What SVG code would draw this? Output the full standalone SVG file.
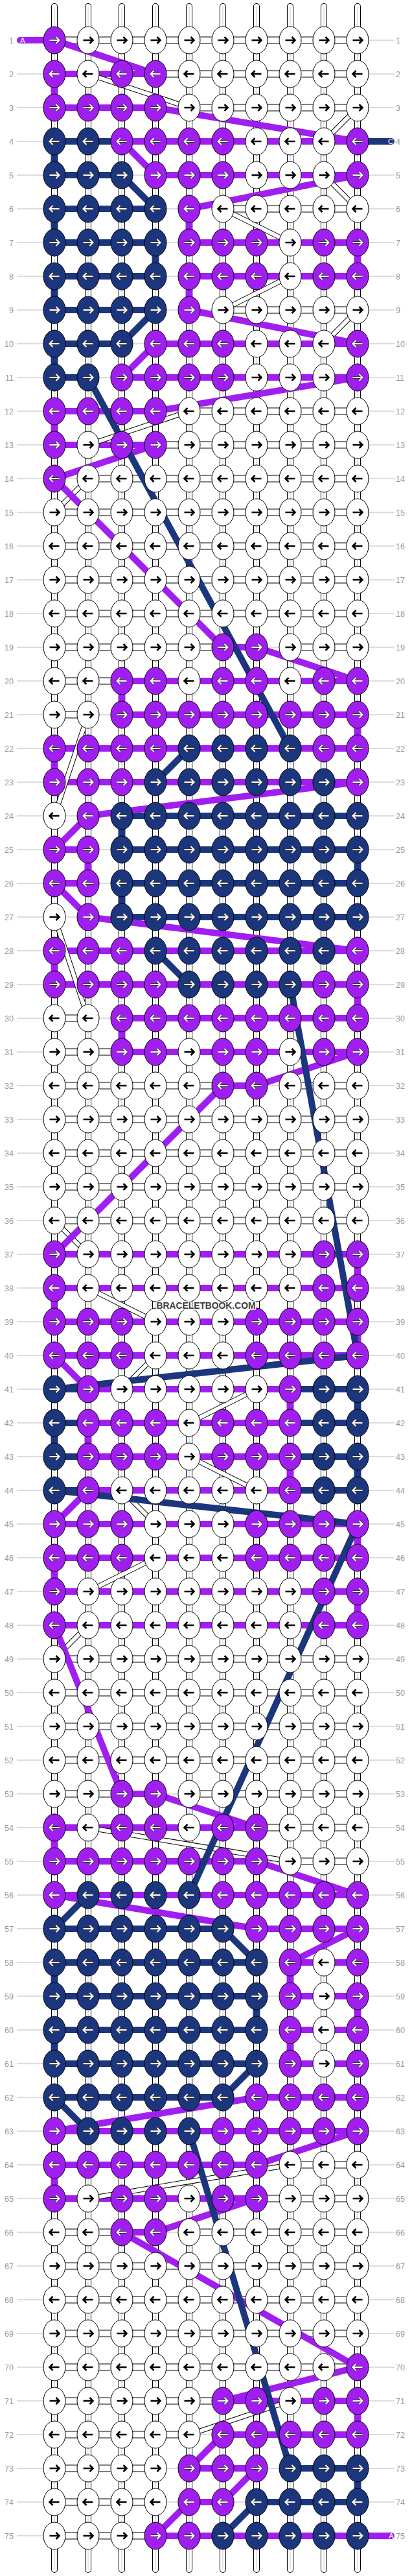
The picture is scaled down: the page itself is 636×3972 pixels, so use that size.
<svg xmlns="http://www.w3.org/2000/svg" width="636" height="3972" viewBox="0 0 636 3972">
<style>
.rl{stroke:#bbb;stroke-width:1;fill:none}
.ll,.lr{font-family:"Liberation Sans",Arial,sans-serif;font-size:12.5px;fill:#999}
.ll{text-anchor:end}
.to{stroke:#000;stroke-width:10;stroke-linecap:round;fill:none}
.ti{stroke:#fff;stroke-width:8;stroke-linecap:round;fill:none}
.tc{stroke:#ccc;stroke-width:1;fill:none}
.ho{stroke:#000;stroke-width:11;fill:none}
.hi{stroke:#fff;stroke-width:9;fill:none}
.hp{stroke:#A01EF0;stroke-width:10;fill:none}
.hn{stroke:#1C367E;stroke-width:10;fill:none}
.vp{stroke:#A01EF0;stroke-width:11;fill:none}
.vn{stroke:#1C367E;stroke-width:11;fill:none}
.dwo{stroke:#000;stroke-width:8;fill:none}
.dwi{stroke:#fff;stroke-width:6;fill:none}
.dp{stroke:#A01EF0;stroke-width:10;fill:none}
.dn{stroke:#1C367E;stroke-width:10;fill:none}
.kw{fill:#fff;stroke:#000;stroke-width:1}
.kp{fill:#A01EF0;stroke:#000;stroke-width:1}
.kn{fill:#1C367E;stroke:#000;stroke-width:1}
.ab{stroke:#000;stroke-width:2.6;fill:none}
.ao{stroke:#333;stroke-width:3.8;fill:none}
.aw{stroke:#fff;stroke-width:2.1;fill:none}
.tag{font-family:"Liberation Sans",Arial,sans-serif;font-size:11px;fill:#fff;text-anchor:middle}
.wm{font-family:"Liberation Sans",Arial,sans-serif;font-size:15px;font-weight:bold;fill:#3c3c3c;text-anchor:middle;stroke:#fff;stroke-width:3;paint-order:stroke}
</style>
<defs>
<path id="R" d="M-7.5 0H6.5M2.5-5 7.5 0 2.5 5"/>
<path id="L" d="M7.5 0H-6.5M-2.5-5-7.5 0-2.5 5"/>
<g id="wr"><ellipse class="kw" rx="17" ry="21"/><use href="#R" class="ab"/></g>
<g id="wl"><ellipse class="kw" rx="17" ry="21"/><use href="#L" class="ab"/></g>
<g id="pr"><ellipse class="kp" rx="17" ry="21"/><use href="#R" class="ao"/><use href="#R" class="aw"/></g>
<g id="pl"><ellipse class="kp" rx="17" ry="21"/><use href="#L" class="ao"/><use href="#L" class="aw"/></g>
<g id="nr"><ellipse class="kn" rx="17" ry="21"/><use href="#R" class="ao"/><use href="#R" class="aw"/></g>
<g id="nl"><ellipse class="kn" rx="17" ry="21"/><use href="#L" class="ao"/><use href="#L" class="aw"/></g>
<path id="hwpath" d="M84 62H552M240 114H552M292 166H552M344 322H552M344 478H552M292 634H552M240 686H552M136 738H552M84 790H552M84 842H552M84 894H552M84 946H552M84 998H344M448 998H552M84 1050H188M84 1102H136M84 1570H136M84 1622H188M84 1674H344M448 1674H552M84 1726H552M84 1778H552M84 1830H552M84 1882H552M84 2558H552M84 2610H552M84 2662H552M84 2714H552M84 2766H188M292 2766H552M396 2818H552M448 2870H552M448 3338H552M396 3390H552M84 3442H188M292 3442H552M84 3494H552M84 3546H552M84 3598H552M84 3650H552M84 3702H344M84 3754H292M84 3806H240M84 3858H240M84 3910H240"/>
<path id="dwpath" d="M136 114L292 166M552 166L500 218M500 270L552 322M344 322L448 374M448 426L344 478M552 478L500 530M292 634L136 686M136 738L84 790M136 1102L84 1258M84 1414L136 1570M84 1882L136 1934M136 1986L240 2038M240 2090L188 2142M396 2142L292 2194M292 2246L396 2298M188 2298L240 2350M240 2402L136 2454M136 2506L84 2558M136 2818L448 2870M448 3338L136 3390M448 3702L292 3754"/>
<path id="tubes" d="M84 10V3962M136 10V3962M188 10V3962M240 10V3962M292 10V3962M344 10V3962M396 10V3962M448 10V3962M500 10V3962M552 10V3962"/>
</defs>
<rect width="636" height="3972" fill="#fff"/>
<g id="row-lines">
<path class="rl" d="M26 62H609M26 114H609M26 166H609M26 218H609M26 270H609M26 322H609M26 374H609M26 426H609M26 478H609M26 530H609M26 582H609M26 634H609M26 686H609M26 738H609M26 790H609M26 842H609M26 894H609M26 946H609M26 998H609M26 1050H609M26 1102H609M26 1154H609M26 1206H609M26 1258H609M26 1310H609M26 1362H609M26 1414H609M26 1466H609M26 1518H609M26 1570H609M26 1622H609M26 1674H609M26 1726H609M26 1778H609M26 1830H609M26 1882H609M26 1934H609M26 1986H609M26 2038H609M26 2090H609M26 2142H609M26 2194H609M26 2246H609M26 2298H609M26 2350H609M26 2402H609M26 2454H609M26 2506H609M26 2558H609M26 2610H609M26 2662H609M26 2714H609M26 2766H609M26 2818H609M26 2870H609M26 2922H609M26 2974H609M26 3026H609M26 3078H609M26 3130H609M26 3182H609M26 3234H609M26 3286H609M26 3338H609M26 3390H609M26 3442H609M26 3494H609M26 3546H609M26 3598H609M26 3650H609M26 3702H609M26 3754H609M26 3806H609M26 3858H609M26 3910H609"/>
</g>
<g id="connectors">
<use href="#tubes" class="to"/><use href="#tubes" class="ti"/><use href="#tubes" class="tc"/>
<use href="#hwpath" class="ho"/><use href="#hwpath" class="hi"/>
<path class="hp" d="M84 114H240M84 166H240M188 218H552M240 270H552M292 374H552M292 426H552M240 530H552M188 582H552M84 634H240M84 686H240M344 998H396M188 1050H552M188 1102H552M84 1154H552M84 1206H552M84 1310H136M84 1362H136M84 1466H552M84 1518H552M188 1570H552M188 1622H552M344 1674H396M84 1934H552M84 1986H552M84 2038H552M84 2090H552M136 2142H448M136 2194H448M136 2246H448M136 2298H448M84 2350H552M84 2402H552M84 2454H552M84 2506H552M188 2766H240M84 2818H396M84 2870H396M84 2922H552M396 2974H552M448 3026H552M448 3078H552M448 3130H552M448 3182H552M396 3234H552M84 3286H552M84 3338H396M84 3390H396M188 3442H240M344 3702H552M344 3754H552M292 3806H396M292 3858H344M240 3910H552"/>
<path class="hn" d="M84 218H188M84 270H188M84 322H240M84 374H240M84 426H240M84 478H240M84 530H188M84 582H136M188 1258H552M188 1310H552M188 1362H552M188 1414H552M84 2142H136M448 2142H552M84 2194H136M448 2194H552M84 2246H136M448 2246H552M84 2298H136M448 2298H552M84 2974H344M84 3026H396M84 3078H396M84 3130H396M84 3182H396M84 3234H344M448 3806H552M396 3858H552"/>
<path class="vp" d="M84 114V166M292 322V374M552 374V426M292 426V478M84 634V686M188 1050V1102M552 1102V1154M84 1154V1206M136 1310V1362M84 1466V1518M552 1518V1570M188 1570V1622M552 1934V1986M84 1986V2038M552 2038V2090M448 2142V2194M136 2194V2246M448 2246V2298M552 2350V2402M84 2402V2454M552 2454V2506M84 2818V2870M448 3026V3078M552 3078V3130M448 3130V3182M84 3338V3390M552 3702V3754"/>
<path class="vn" d="M84 218V270M84 322V374M240 374V426M84 426V478M84 530V582M188 1258V1310M552 1310V1362M188 1362V1414M552 2142V2194M84 2194V2246M552 2246V2298M84 3026V3078M396 3078V3130M84 3130V3182M552 3806V3858"/>
<use href="#dwpath" class="dwo"/><use href="#dwpath" class="dwi"/>
<path class="dp" d="M84 62L240 114M240 166L552 218M188 218L240 270M552 270L292 322M292 478L552 530M240 530L188 582M552 582L240 634M240 686L84 738M84 738L344 998M396 998L552 1050M552 1206L136 1258M136 1258L84 1310M84 1362L136 1414M136 1414L552 1466M552 1622L396 1674M344 1674L84 1934M84 2090L136 2142M136 2298L84 2350M84 2506L188 2766M240 2766L396 2818M396 2870L552 2922M84 2922L396 2974M552 2974L448 3026M396 3234L84 3286M552 3286L396 3338M396 3390L240 3442M188 3442L552 3650M552 3650L344 3702M344 3754L292 3806M396 3806L344 3858M292 3858L240 3910"/>
<path class="dn" d="M188 270L240 322M240 478L188 530M136 582L448 1154M292 1154L240 1206M240 1466L292 1518M448 1518L552 2090M552 2090L84 2142M84 2298L552 2350M552 2350L292 2922M136 2922L84 2974M344 2974L396 3026M396 3182L344 3234M84 3234L136 3286M292 3286L448 3806M396 3858L344 3910"/>
<rect x="26" y="57" width="60" height="10" rx="5" fill="#A01EF0"/>
<rect x="550" y="213" width="59" height="10" rx="5" fill="#1C367E"/>
<rect x="550" y="3905" width="59" height="10" rx="5" fill="#A01EF0"/>
<text class="tag" x="35" y="66">A</text>
<text class="tag" x="603" y="222">C</text>
<text class="tag" x="604" y="3914">A</text>
</g>
<g id="knots">
<g id="r1" transform="translate(0 62)"><text class="ll" x="21" y="4.5">1</text><text class="lr" x="611" y="4.5">1</text><use id="n1_1" href="#pr" x="84"/><use id="n1_2" href="#wr" x="136"/><use id="n1_3" href="#wr" x="188"/><use id="n1_4" href="#wr" x="240"/><use id="n1_5" href="#wr" x="292"/><use id="n1_6" href="#wr" x="344"/><use id="n1_7" href="#wr" x="396"/><use id="n1_8" href="#wr" x="448"/><use id="n1_9" href="#wr" x="500"/><use id="n1_10" href="#wr" x="552"/></g>
<g id="r2" transform="translate(0 114)"><text class="ll" x="21" y="4.5">2</text><text class="lr" x="611" y="4.5">2</text><use id="n2_1" href="#pl" x="84"/><use id="n2_2" href="#wl" x="136"/><use id="n2_3" href="#pl" x="188"/><use id="n2_4" href="#pl" x="240"/><use id="n2_5" href="#wl" x="292"/><use id="n2_6" href="#wl" x="344"/><use id="n2_7" href="#wl" x="396"/><use id="n2_8" href="#wl" x="448"/><use id="n2_9" href="#wl" x="500"/><use id="n2_10" href="#wl" x="552"/></g>
<g id="r3" transform="translate(0 166)"><text class="ll" x="21" y="4.5">3</text><text class="lr" x="611" y="4.5">3</text><use id="n3_1" href="#pr" x="84"/><use id="n3_2" href="#pr" x="136"/><use id="n3_3" href="#pr" x="188"/><use id="n3_4" href="#pr" x="240"/><use id="n3_5" href="#wr" x="292"/><use id="n3_6" href="#wr" x="344"/><use id="n3_7" href="#wr" x="396"/><use id="n3_8" href="#wr" x="448"/><use id="n3_9" href="#wr" x="500"/><use id="n3_10" href="#wr" x="552"/></g>
<g id="r4" transform="translate(0 218)"><text class="ll" x="21" y="4.5">4</text><text class="lr" x="611" y="4.5">4</text><use id="n4_1" href="#nl" x="84"/><use id="n4_2" href="#nl" x="136"/><use id="n4_3" href="#pl" x="188"/><use id="n4_4" href="#pl" x="240"/><use id="n4_5" href="#pl" x="292"/><use id="n4_6" href="#pl" x="344"/><use id="n4_7" href="#wl" x="396"/><use id="n4_8" href="#wl" x="448"/><use id="n4_9" href="#wl" x="500"/><use id="n4_10" href="#pl" x="552"/></g>
<g id="r5" transform="translate(0 270)"><text class="ll" x="21" y="4.5">5</text><text class="lr" x="611" y="4.5">5</text><use id="n5_1" href="#nr" x="84"/><use id="n5_2" href="#nr" x="136"/><use id="n5_3" href="#nr" x="188"/><use id="n5_4" href="#pr" x="240"/><use id="n5_5" href="#pr" x="292"/><use id="n5_6" href="#pr" x="344"/><use id="n5_7" href="#wr" x="396"/><use id="n5_8" href="#wr" x="448"/><use id="n5_9" href="#wr" x="500"/><use id="n5_10" href="#pr" x="552"/></g>
<g id="r6" transform="translate(0 322)"><text class="ll" x="21" y="4.5">6</text><text class="lr" x="611" y="4.5">6</text><use id="n6_1" href="#nl" x="84"/><use id="n6_2" href="#nl" x="136"/><use id="n6_3" href="#nl" x="188"/><use id="n6_4" href="#nl" x="240"/><use id="n6_5" href="#pl" x="292"/><use id="n6_6" href="#wl" x="344"/><use id="n6_7" href="#wl" x="396"/><use id="n6_8" href="#wl" x="448"/><use id="n6_9" href="#wl" x="500"/><use id="n6_10" href="#wl" x="552"/></g>
<g id="r7" transform="translate(0 374)"><text class="ll" x="21" y="4.5">7</text><text class="lr" x="611" y="4.5">7</text><use id="n7_1" href="#nr" x="84"/><use id="n7_2" href="#nr" x="136"/><use id="n7_3" href="#nr" x="188"/><use id="n7_4" href="#nr" x="240"/><use id="n7_5" href="#pr" x="292"/><use id="n7_6" href="#pr" x="344"/><use id="n7_7" href="#pr" x="396"/><use id="n7_8" href="#wr" x="448"/><use id="n7_9" href="#pr" x="500"/><use id="n7_10" href="#pr" x="552"/></g>
<g id="r8" transform="translate(0 426)"><text class="ll" x="21" y="4.5">8</text><text class="lr" x="611" y="4.5">8</text><use id="n8_1" href="#nl" x="84"/><use id="n8_2" href="#nl" x="136"/><use id="n8_3" href="#nl" x="188"/><use id="n8_4" href="#nl" x="240"/><use id="n8_5" href="#pl" x="292"/><use id="n8_6" href="#pl" x="344"/><use id="n8_7" href="#pl" x="396"/><use id="n8_8" href="#wl" x="448"/><use id="n8_9" href="#pl" x="500"/><use id="n8_10" href="#pl" x="552"/></g>
<g id="r9" transform="translate(0 478)"><text class="ll" x="21" y="4.5">9</text><text class="lr" x="611" y="4.5">9</text><use id="n9_1" href="#nr" x="84"/><use id="n9_2" href="#nr" x="136"/><use id="n9_3" href="#nr" x="188"/><use id="n9_4" href="#nr" x="240"/><use id="n9_5" href="#pr" x="292"/><use id="n9_6" href="#wr" x="344"/><use id="n9_7" href="#wr" x="396"/><use id="n9_8" href="#wr" x="448"/><use id="n9_9" href="#wr" x="500"/><use id="n9_10" href="#wr" x="552"/></g>
<g id="r10" transform="translate(0 530)"><text class="ll" x="21" y="4.5">10</text><text class="lr" x="611" y="4.5">10</text><use id="n10_1" href="#nl" x="84"/><use id="n10_2" href="#nl" x="136"/><use id="n10_3" href="#nl" x="188"/><use id="n10_4" href="#pl" x="240"/><use id="n10_5" href="#pl" x="292"/><use id="n10_6" href="#pl" x="344"/><use id="n10_7" href="#wl" x="396"/><use id="n10_8" href="#wl" x="448"/><use id="n10_9" href="#wl" x="500"/><use id="n10_10" href="#pl" x="552"/></g>
<g id="r11" transform="translate(0 582)"><text class="ll" x="21" y="4.5">11</text><text class="lr" x="611" y="4.5">11</text><use id="n11_1" href="#nr" x="84"/><use id="n11_2" href="#nr" x="136"/><use id="n11_3" href="#pr" x="188"/><use id="n11_4" href="#pr" x="240"/><use id="n11_5" href="#pr" x="292"/><use id="n11_6" href="#pr" x="344"/><use id="n11_7" href="#wr" x="396"/><use id="n11_8" href="#wr" x="448"/><use id="n11_9" href="#wr" x="500"/><use id="n11_10" href="#pr" x="552"/></g>
<g id="r12" transform="translate(0 634)"><text class="ll" x="21" y="4.5">12</text><text class="lr" x="611" y="4.5">12</text><use id="n12_1" href="#pl" x="84"/><use id="n12_2" href="#pl" x="136"/><use id="n12_3" href="#pl" x="188"/><use id="n12_4" href="#pl" x="240"/><use id="n12_5" href="#wl" x="292"/><use id="n12_6" href="#wl" x="344"/><use id="n12_7" href="#wl" x="396"/><use id="n12_8" href="#wl" x="448"/><use id="n12_9" href="#wl" x="500"/><use id="n12_10" href="#wl" x="552"/></g>
<g id="r13" transform="translate(0 686)"><text class="ll" x="21" y="4.5">13</text><text class="lr" x="611" y="4.5">13</text><use id="n13_1" href="#pr" x="84"/><use id="n13_2" href="#wr" x="136"/><use id="n13_3" href="#pr" x="188"/><use id="n13_4" href="#pr" x="240"/><use id="n13_5" href="#wr" x="292"/><use id="n13_6" href="#wr" x="344"/><use id="n13_7" href="#wr" x="396"/><use id="n13_8" href="#wr" x="448"/><use id="n13_9" href="#wr" x="500"/><use id="n13_10" href="#wr" x="552"/></g>
<g id="r14" transform="translate(0 738)"><text class="ll" x="21" y="4.5">14</text><text class="lr" x="611" y="4.5">14</text><use id="n14_1" href="#pl" x="84"/><use id="n14_2" href="#wl" x="136"/><use id="n14_3" href="#wl" x="188"/><use id="n14_4" href="#wl" x="240"/><use id="n14_5" href="#wl" x="292"/><use id="n14_6" href="#wl" x="344"/><use id="n14_7" href="#wl" x="396"/><use id="n14_8" href="#wl" x="448"/><use id="n14_9" href="#wl" x="500"/><use id="n14_10" href="#wl" x="552"/></g>
<g id="r15" transform="translate(0 790)"><text class="ll" x="21" y="4.5">15</text><text class="lr" x="611" y="4.5">15</text><use id="n15_1" href="#wr" x="84"/><use id="n15_2" href="#wr" x="136"/><use id="n15_3" href="#wr" x="188"/><use id="n15_4" href="#wr" x="240"/><use id="n15_5" href="#wr" x="292"/><use id="n15_6" href="#wr" x="344"/><use id="n15_7" href="#wr" x="396"/><use id="n15_8" href="#wr" x="448"/><use id="n15_9" href="#wr" x="500"/><use id="n15_10" href="#wr" x="552"/></g>
<g id="r16" transform="translate(0 842)"><text class="ll" x="21" y="4.5">16</text><text class="lr" x="611" y="4.5">16</text><use id="n16_1" href="#wl" x="84"/><use id="n16_2" href="#wl" x="136"/><use id="n16_3" href="#wl" x="188"/><use id="n16_4" href="#wl" x="240"/><use id="n16_5" href="#wl" x="292"/><use id="n16_6" href="#wl" x="344"/><use id="n16_7" href="#wl" x="396"/><use id="n16_8" href="#wl" x="448"/><use id="n16_9" href="#wl" x="500"/><use id="n16_10" href="#wl" x="552"/></g>
<g id="r17" transform="translate(0 894)"><text class="ll" x="21" y="4.5">17</text><text class="lr" x="611" y="4.5">17</text><use id="n17_1" href="#wr" x="84"/><use id="n17_2" href="#wr" x="136"/><use id="n17_3" href="#wr" x="188"/><use id="n17_4" href="#wr" x="240"/><use id="n17_5" href="#wr" x="292"/><use id="n17_6" href="#wr" x="344"/><use id="n17_7" href="#wr" x="396"/><use id="n17_8" href="#wr" x="448"/><use id="n17_9" href="#wr" x="500"/><use id="n17_10" href="#wr" x="552"/></g>
<g id="r18" transform="translate(0 946)"><text class="ll" x="21" y="4.5">18</text><text class="lr" x="611" y="4.5">18</text><use id="n18_1" href="#wl" x="84"/><use id="n18_2" href="#wl" x="136"/><use id="n18_3" href="#wl" x="188"/><use id="n18_4" href="#wl" x="240"/><use id="n18_5" href="#wl" x="292"/><use id="n18_6" href="#wl" x="344"/><use id="n18_7" href="#wl" x="396"/><use id="n18_8" href="#wl" x="448"/><use id="n18_9" href="#wl" x="500"/><use id="n18_10" href="#wl" x="552"/></g>
<g id="r19" transform="translate(0 998)"><text class="ll" x="21" y="4.5">19</text><text class="lr" x="611" y="4.5">19</text><use id="n19_1" href="#wr" x="84"/><use id="n19_2" href="#wr" x="136"/><use id="n19_3" href="#wr" x="188"/><use id="n19_4" href="#wr" x="240"/><use id="n19_5" href="#wr" x="292"/><use id="n19_6" href="#pr" x="344"/><use id="n19_7" href="#pr" x="396"/><use id="n19_8" href="#wr" x="448"/><use id="n19_9" href="#wr" x="500"/><use id="n19_10" href="#wr" x="552"/></g>
<g id="r20" transform="translate(0 1050)"><text class="ll" x="21" y="4.5">20</text><text class="lr" x="611" y="4.5">20</text><use id="n20_1" href="#wl" x="84"/><use id="n20_2" href="#wl" x="136"/><use id="n20_3" href="#pl" x="188"/><use id="n20_4" href="#pl" x="240"/><use id="n20_5" href="#wl" x="292"/><use id="n20_6" href="#pl" x="344"/><use id="n20_7" href="#pl" x="396"/><use id="n20_8" href="#wl" x="448"/><use id="n20_9" href="#pl" x="500"/><use id="n20_10" href="#pl" x="552"/></g>
<g id="r21" transform="translate(0 1102)"><text class="ll" x="21" y="4.5">21</text><text class="lr" x="611" y="4.5">21</text><use id="n21_1" href="#wr" x="84"/><use id="n21_2" href="#wr" x="136"/><use id="n21_3" href="#pr" x="188"/><use id="n21_4" href="#pr" x="240"/><use id="n21_5" href="#pr" x="292"/><use id="n21_6" href="#pr" x="344"/><use id="n21_7" href="#pr" x="396"/><use id="n21_8" href="#pr" x="448"/><use id="n21_9" href="#pr" x="500"/><use id="n21_10" href="#pr" x="552"/></g>
<g id="r22" transform="translate(0 1154)"><text class="ll" x="21" y="4.5">22</text><text class="lr" x="611" y="4.5">22</text><use id="n22_1" href="#pl" x="84"/><use id="n22_2" href="#pl" x="136"/><use id="n22_3" href="#pl" x="188"/><use id="n22_4" href="#pl" x="240"/><use id="n22_5" href="#nl" x="292"/><use id="n22_6" href="#nl" x="344"/><use id="n22_7" href="#nl" x="396"/><use id="n22_8" href="#nl" x="448"/><use id="n22_9" href="#pl" x="500"/><use id="n22_10" href="#pl" x="552"/></g>
<g id="r23" transform="translate(0 1206)"><text class="ll" x="21" y="4.5">23</text><text class="lr" x="611" y="4.5">23</text><use id="n23_1" href="#pr" x="84"/><use id="n23_2" href="#pr" x="136"/><use id="n23_3" href="#pr" x="188"/><use id="n23_4" href="#nr" x="240"/><use id="n23_5" href="#nr" x="292"/><use id="n23_6" href="#nr" x="344"/><use id="n23_7" href="#nr" x="396"/><use id="n23_8" href="#nr" x="448"/><use id="n23_9" href="#nr" x="500"/><use id="n23_10" href="#pr" x="552"/></g>
<g id="r24" transform="translate(0 1258)"><text class="ll" x="21" y="4.5">24</text><text class="lr" x="611" y="4.5">24</text><use id="n24_1" href="#wl" x="84"/><use id="n24_2" href="#pl" x="136"/><use id="n24_3" href="#nl" x="188"/><use id="n24_4" href="#nl" x="240"/><use id="n24_5" href="#nl" x="292"/><use id="n24_6" href="#nl" x="344"/><use id="n24_7" href="#nl" x="396"/><use id="n24_8" href="#nl" x="448"/><use id="n24_9" href="#nl" x="500"/><use id="n24_10" href="#nl" x="552"/></g>
<g id="r25" transform="translate(0 1310)"><text class="ll" x="21" y="4.5">25</text><text class="lr" x="611" y="4.5">25</text><use id="n25_1" href="#pr" x="84"/><use id="n25_2" href="#pr" x="136"/><use id="n25_3" href="#nr" x="188"/><use id="n25_4" href="#nr" x="240"/><use id="n25_5" href="#nr" x="292"/><use id="n25_6" href="#nr" x="344"/><use id="n25_7" href="#nr" x="396"/><use id="n25_8" href="#nr" x="448"/><use id="n25_9" href="#nr" x="500"/><use id="n25_10" href="#nr" x="552"/></g>
<g id="r26" transform="translate(0 1362)"><text class="ll" x="21" y="4.5">26</text><text class="lr" x="611" y="4.5">26</text><use id="n26_1" href="#pl" x="84"/><use id="n26_2" href="#pl" x="136"/><use id="n26_3" href="#nl" x="188"/><use id="n26_4" href="#nl" x="240"/><use id="n26_5" href="#nl" x="292"/><use id="n26_6" href="#nl" x="344"/><use id="n26_7" href="#nl" x="396"/><use id="n26_8" href="#nl" x="448"/><use id="n26_9" href="#nl" x="500"/><use id="n26_10" href="#nl" x="552"/></g>
<g id="r27" transform="translate(0 1414)"><text class="ll" x="21" y="4.5">27</text><text class="lr" x="611" y="4.5">27</text><use id="n27_1" href="#wr" x="84"/><use id="n27_2" href="#pr" x="136"/><use id="n27_3" href="#nr" x="188"/><use id="n27_4" href="#nr" x="240"/><use id="n27_5" href="#nr" x="292"/><use id="n27_6" href="#nr" x="344"/><use id="n27_7" href="#nr" x="396"/><use id="n27_8" href="#nr" x="448"/><use id="n27_9" href="#nr" x="500"/><use id="n27_10" href="#nr" x="552"/></g>
<g id="r28" transform="translate(0 1466)"><text class="ll" x="21" y="4.5">28</text><text class="lr" x="611" y="4.5">28</text><use id="n28_1" href="#pl" x="84"/><use id="n28_2" href="#pl" x="136"/><use id="n28_3" href="#pl" x="188"/><use id="n28_4" href="#nl" x="240"/><use id="n28_5" href="#nl" x="292"/><use id="n28_6" href="#nl" x="344"/><use id="n28_7" href="#nl" x="396"/><use id="n28_8" href="#nl" x="448"/><use id="n28_9" href="#nl" x="500"/><use id="n28_10" href="#pl" x="552"/></g>
<g id="r29" transform="translate(0 1518)"><text class="ll" x="21" y="4.5">29</text><text class="lr" x="611" y="4.5">29</text><use id="n29_1" href="#pr" x="84"/><use id="n29_2" href="#pr" x="136"/><use id="n29_3" href="#pr" x="188"/><use id="n29_4" href="#pr" x="240"/><use id="n29_5" href="#nr" x="292"/><use id="n29_6" href="#nr" x="344"/><use id="n29_7" href="#nr" x="396"/><use id="n29_8" href="#nr" x="448"/><use id="n29_9" href="#pr" x="500"/><use id="n29_10" href="#pr" x="552"/></g>
<g id="r30" transform="translate(0 1570)"><text class="ll" x="21" y="4.5">30</text><text class="lr" x="611" y="4.5">30</text><use id="n30_1" href="#wl" x="84"/><use id="n30_2" href="#wl" x="136"/><use id="n30_3" href="#pl" x="188"/><use id="n30_4" href="#pl" x="240"/><use id="n30_5" href="#pl" x="292"/><use id="n30_6" href="#pl" x="344"/><use id="n30_7" href="#pl" x="396"/><use id="n30_8" href="#pl" x="448"/><use id="n30_9" href="#pl" x="500"/><use id="n30_10" href="#pl" x="552"/></g>
<g id="r31" transform="translate(0 1622)"><text class="ll" x="21" y="4.5">31</text><text class="lr" x="611" y="4.5">31</text><use id="n31_1" href="#wr" x="84"/><use id="n31_2" href="#wr" x="136"/><use id="n31_3" href="#pr" x="188"/><use id="n31_4" href="#pr" x="240"/><use id="n31_5" href="#wr" x="292"/><use id="n31_6" href="#pr" x="344"/><use id="n31_7" href="#pr" x="396"/><use id="n31_8" href="#wr" x="448"/><use id="n31_9" href="#pr" x="500"/><use id="n31_10" href="#pr" x="552"/></g>
<g id="r32" transform="translate(0 1674)"><text class="ll" x="21" y="4.5">32</text><text class="lr" x="611" y="4.5">32</text><use id="n32_1" href="#wl" x="84"/><use id="n32_2" href="#wl" x="136"/><use id="n32_3" href="#wl" x="188"/><use id="n32_4" href="#wl" x="240"/><use id="n32_5" href="#wl" x="292"/><use id="n32_6" href="#pl" x="344"/><use id="n32_7" href="#pl" x="396"/><use id="n32_8" href="#wl" x="448"/><use id="n32_9" href="#wl" x="500"/><use id="n32_10" href="#wl" x="552"/></g>
<g id="r33" transform="translate(0 1726)"><text class="ll" x="21" y="4.5">33</text><text class="lr" x="611" y="4.5">33</text><use id="n33_1" href="#wr" x="84"/><use id="n33_2" href="#wr" x="136"/><use id="n33_3" href="#wr" x="188"/><use id="n33_4" href="#wr" x="240"/><use id="n33_5" href="#wr" x="292"/><use id="n33_6" href="#wr" x="344"/><use id="n33_7" href="#wr" x="396"/><use id="n33_8" href="#wr" x="448"/><use id="n33_9" href="#wr" x="500"/><use id="n33_10" href="#wr" x="552"/></g>
<g id="r34" transform="translate(0 1778)"><text class="ll" x="21" y="4.5">34</text><text class="lr" x="611" y="4.5">34</text><use id="n34_1" href="#wl" x="84"/><use id="n34_2" href="#wl" x="136"/><use id="n34_3" href="#wl" x="188"/><use id="n34_4" href="#wl" x="240"/><use id="n34_5" href="#wl" x="292"/><use id="n34_6" href="#wl" x="344"/><use id="n34_7" href="#wl" x="396"/><use id="n34_8" href="#wl" x="448"/><use id="n34_9" href="#wl" x="500"/><use id="n34_10" href="#wl" x="552"/></g>
<g id="r35" transform="translate(0 1830)"><text class="ll" x="21" y="4.5">35</text><text class="lr" x="611" y="4.5">35</text><use id="n35_1" href="#wr" x="84"/><use id="n35_2" href="#wr" x="136"/><use id="n35_3" href="#wr" x="188"/><use id="n35_4" href="#wr" x="240"/><use id="n35_5" href="#wr" x="292"/><use id="n35_6" href="#wr" x="344"/><use id="n35_7" href="#wr" x="396"/><use id="n35_8" href="#wr" x="448"/><use id="n35_9" href="#wr" x="500"/><use id="n35_10" href="#wr" x="552"/></g>
<g id="r36" transform="translate(0 1882)"><text class="ll" x="21" y="4.5">36</text><text class="lr" x="611" y="4.5">36</text><use id="n36_1" href="#wl" x="84"/><use id="n36_2" href="#wl" x="136"/><use id="n36_3" href="#wl" x="188"/><use id="n36_4" href="#wl" x="240"/><use id="n36_5" href="#wl" x="292"/><use id="n36_6" href="#wl" x="344"/><use id="n36_7" href="#wl" x="396"/><use id="n36_8" href="#wl" x="448"/><use id="n36_9" href="#wl" x="500"/><use id="n36_10" href="#wl" x="552"/></g>
<g id="r37" transform="translate(0 1934)"><text class="ll" x="21" y="4.5">37</text><text class="lr" x="611" y="4.5">37</text><use id="n37_1" href="#pr" x="84"/><use id="n37_2" href="#wr" x="136"/><use id="n37_3" href="#wr" x="188"/><use id="n37_4" href="#wr" x="240"/><use id="n37_5" href="#wr" x="292"/><use id="n37_6" href="#wr" x="344"/><use id="n37_7" href="#wr" x="396"/><use id="n37_8" href="#wr" x="448"/><use id="n37_9" href="#pr" x="500"/><use id="n37_10" href="#pr" x="552"/></g>
<g id="r38" transform="translate(0 1986)"><text class="ll" x="21" y="4.5">38</text><text class="lr" x="611" y="4.5">38</text><use id="n38_1" href="#pl" x="84"/><use id="n38_2" href="#wl" x="136"/><use id="n38_3" href="#wl" x="188"/><use id="n38_4" href="#wl" x="240"/><use id="n38_5" href="#wl" x="292"/><use id="n38_6" href="#wl" x="344"/><use id="n38_7" href="#wl" x="396"/><use id="n38_8" href="#wl" x="448"/><use id="n38_9" href="#pl" x="500"/><use id="n38_10" href="#pl" x="552"/></g>
<g id="r39" transform="translate(0 2038)"><text class="ll" x="21" y="4.5">39</text><text class="lr" x="611" y="4.5">39</text><use id="n39_1" href="#pr" x="84"/><use id="n39_2" href="#pr" x="136"/><use id="n39_3" href="#pr" x="188"/><use id="n39_4" href="#wr" x="240"/><use id="n39_5" href="#wr" x="292"/><use id="n39_6" href="#wr" x="344"/><use id="n39_7" href="#pr" x="396"/><use id="n39_8" href="#pr" x="448"/><use id="n39_9" href="#pr" x="500"/><use id="n39_10" href="#pr" x="552"/></g>
<g id="r40" transform="translate(0 2090)"><text class="ll" x="21" y="4.5">40</text><text class="lr" x="611" y="4.5">40</text><use id="n40_1" href="#pl" x="84"/><use id="n40_2" href="#pl" x="136"/><use id="n40_3" href="#pl" x="188"/><use id="n40_4" href="#wl" x="240"/><use id="n40_5" href="#wl" x="292"/><use id="n40_6" href="#wl" x="344"/><use id="n40_7" href="#pl" x="396"/><use id="n40_8" href="#pl" x="448"/><use id="n40_9" href="#pl" x="500"/><use id="n40_10" href="#pl" x="552"/></g>
<g id="r41" transform="translate(0 2142)"><text class="ll" x="21" y="4.5">41</text><text class="lr" x="611" y="4.5">41</text><use id="n41_1" href="#nr" x="84"/><use id="n41_2" href="#pr" x="136"/><use id="n41_3" href="#wr" x="188"/><use id="n41_4" href="#wr" x="240"/><use id="n41_5" href="#wr" x="292"/><use id="n41_6" href="#wr" x="344"/><use id="n41_7" href="#wr" x="396"/><use id="n41_8" href="#pr" x="448"/><use id="n41_9" href="#nr" x="500"/><use id="n41_10" href="#nr" x="552"/></g>
<g id="r42" transform="translate(0 2194)"><text class="ll" x="21" y="4.5">42</text><text class="lr" x="611" y="4.5">42</text><use id="n42_1" href="#nl" x="84"/><use id="n42_2" href="#pl" x="136"/><use id="n42_3" href="#pl" x="188"/><use id="n42_4" href="#pl" x="240"/><use id="n42_5" href="#wl" x="292"/><use id="n42_6" href="#pl" x="344"/><use id="n42_7" href="#pl" x="396"/><use id="n42_8" href="#pl" x="448"/><use id="n42_9" href="#nl" x="500"/><use id="n42_10" href="#nl" x="552"/></g>
<g id="r43" transform="translate(0 2246)"><text class="ll" x="21" y="4.5">43</text><text class="lr" x="611" y="4.5">43</text><use id="n43_1" href="#nr" x="84"/><use id="n43_2" href="#pr" x="136"/><use id="n43_3" href="#pr" x="188"/><use id="n43_4" href="#pr" x="240"/><use id="n43_5" href="#wr" x="292"/><use id="n43_6" href="#pr" x="344"/><use id="n43_7" href="#pr" x="396"/><use id="n43_8" href="#pr" x="448"/><use id="n43_9" href="#nr" x="500"/><use id="n43_10" href="#nr" x="552"/></g>
<g id="r44" transform="translate(0 2298)"><text class="ll" x="21" y="4.5">44</text><text class="lr" x="611" y="4.5">44</text><use id="n44_1" href="#nl" x="84"/><use id="n44_2" href="#pl" x="136"/><use id="n44_3" href="#wl" x="188"/><use id="n44_4" href="#wl" x="240"/><use id="n44_5" href="#wl" x="292"/><use id="n44_6" href="#wl" x="344"/><use id="n44_7" href="#wl" x="396"/><use id="n44_8" href="#pl" x="448"/><use id="n44_9" href="#nl" x="500"/><use id="n44_10" href="#nl" x="552"/></g>
<g id="r45" transform="translate(0 2350)"><text class="ll" x="21" y="4.5">45</text><text class="lr" x="611" y="4.5">45</text><use id="n45_1" href="#pr" x="84"/><use id="n45_2" href="#pr" x="136"/><use id="n45_3" href="#pr" x="188"/><use id="n45_4" href="#wr" x="240"/><use id="n45_5" href="#wr" x="292"/><use id="n45_6" href="#wr" x="344"/><use id="n45_7" href="#pr" x="396"/><use id="n45_8" href="#pr" x="448"/><use id="n45_9" href="#pr" x="500"/><use id="n45_10" href="#pr" x="552"/></g>
<g id="r46" transform="translate(0 2402)"><text class="ll" x="21" y="4.5">46</text><text class="lr" x="611" y="4.5">46</text><use id="n46_1" href="#pl" x="84"/><use id="n46_2" href="#pl" x="136"/><use id="n46_3" href="#pl" x="188"/><use id="n46_4" href="#wl" x="240"/><use id="n46_5" href="#wl" x="292"/><use id="n46_6" href="#wl" x="344"/><use id="n46_7" href="#pl" x="396"/><use id="n46_8" href="#pl" x="448"/><use id="n46_9" href="#pl" x="500"/><use id="n46_10" href="#pl" x="552"/></g>
<g id="r47" transform="translate(0 2454)"><text class="ll" x="21" y="4.5">47</text><text class="lr" x="611" y="4.5">47</text><use id="n47_1" href="#pr" x="84"/><use id="n47_2" href="#wr" x="136"/><use id="n47_3" href="#wr" x="188"/><use id="n47_4" href="#wr" x="240"/><use id="n47_5" href="#wr" x="292"/><use id="n47_6" href="#wr" x="344"/><use id="n47_7" href="#wr" x="396"/><use id="n47_8" href="#wr" x="448"/><use id="n47_9" href="#pr" x="500"/><use id="n47_10" href="#pr" x="552"/></g>
<g id="r48" transform="translate(0 2506)"><text class="ll" x="21" y="4.5">48</text><text class="lr" x="611" y="4.5">48</text><use id="n48_1" href="#pl" x="84"/><use id="n48_2" href="#wl" x="136"/><use id="n48_3" href="#wl" x="188"/><use id="n48_4" href="#wl" x="240"/><use id="n48_5" href="#wl" x="292"/><use id="n48_6" href="#wl" x="344"/><use id="n48_7" href="#wl" x="396"/><use id="n48_8" href="#wl" x="448"/><use id="n48_9" href="#pl" x="500"/><use id="n48_10" href="#pl" x="552"/></g>
<g id="r49" transform="translate(0 2558)"><text class="ll" x="21" y="4.5">49</text><text class="lr" x="611" y="4.5">49</text><use id="n49_1" href="#wr" x="84"/><use id="n49_2" href="#wr" x="136"/><use id="n49_3" href="#wr" x="188"/><use id="n49_4" href="#wr" x="240"/><use id="n49_5" href="#wr" x="292"/><use id="n49_6" href="#wr" x="344"/><use id="n49_7" href="#wr" x="396"/><use id="n49_8" href="#wr" x="448"/><use id="n49_9" href="#wr" x="500"/><use id="n49_10" href="#wr" x="552"/></g>
<g id="r50" transform="translate(0 2610)"><text class="ll" x="21" y="4.5">50</text><text class="lr" x="611" y="4.5">50</text><use id="n50_1" href="#wl" x="84"/><use id="n50_2" href="#wl" x="136"/><use id="n50_3" href="#wl" x="188"/><use id="n50_4" href="#wl" x="240"/><use id="n50_5" href="#wl" x="292"/><use id="n50_6" href="#wl" x="344"/><use id="n50_7" href="#wl" x="396"/><use id="n50_8" href="#wl" x="448"/><use id="n50_9" href="#wl" x="500"/><use id="n50_10" href="#wl" x="552"/></g>
<g id="r51" transform="translate(0 2662)"><text class="ll" x="21" y="4.5">51</text><text class="lr" x="611" y="4.5">51</text><use id="n51_1" href="#wr" x="84"/><use id="n51_2" href="#wr" x="136"/><use id="n51_3" href="#wr" x="188"/><use id="n51_4" href="#wr" x="240"/><use id="n51_5" href="#wr" x="292"/><use id="n51_6" href="#wr" x="344"/><use id="n51_7" href="#wr" x="396"/><use id="n51_8" href="#wr" x="448"/><use id="n51_9" href="#wr" x="500"/><use id="n51_10" href="#wr" x="552"/></g>
<g id="r52" transform="translate(0 2714)"><text class="ll" x="21" y="4.5">52</text><text class="lr" x="611" y="4.5">52</text><use id="n52_1" href="#wl" x="84"/><use id="n52_2" href="#wl" x="136"/><use id="n52_3" href="#wl" x="188"/><use id="n52_4" href="#wl" x="240"/><use id="n52_5" href="#wl" x="292"/><use id="n52_6" href="#wl" x="344"/><use id="n52_7" href="#wl" x="396"/><use id="n52_8" href="#wl" x="448"/><use id="n52_9" href="#wl" x="500"/><use id="n52_10" href="#wl" x="552"/></g>
<g id="r53" transform="translate(0 2766)"><text class="ll" x="21" y="4.5">53</text><text class="lr" x="611" y="4.5">53</text><use id="n53_1" href="#wr" x="84"/><use id="n53_2" href="#wr" x="136"/><use id="n53_3" href="#pr" x="188"/><use id="n53_4" href="#pr" x="240"/><use id="n53_5" href="#wr" x="292"/><use id="n53_6" href="#wr" x="344"/><use id="n53_7" href="#wr" x="396"/><use id="n53_8" href="#wr" x="448"/><use id="n53_9" href="#wr" x="500"/><use id="n53_10" href="#wr" x="552"/></g>
<g id="r54" transform="translate(0 2818)"><text class="ll" x="21" y="4.5">54</text><text class="lr" x="611" y="4.5">54</text><use id="n54_1" href="#pl" x="84"/><use id="n54_2" href="#wl" x="136"/><use id="n54_3" href="#pl" x="188"/><use id="n54_4" href="#pl" x="240"/><use id="n54_5" href="#wl" x="292"/><use id="n54_6" href="#pl" x="344"/><use id="n54_7" href="#pl" x="396"/><use id="n54_8" href="#wl" x="448"/><use id="n54_9" href="#wl" x="500"/><use id="n54_10" href="#wl" x="552"/></g>
<g id="r55" transform="translate(0 2870)"><text class="ll" x="21" y="4.5">55</text><text class="lr" x="611" y="4.5">55</text><use id="n55_1" href="#pr" x="84"/><use id="n55_2" href="#pr" x="136"/><use id="n55_3" href="#pr" x="188"/><use id="n55_4" href="#pr" x="240"/><use id="n55_5" href="#pr" x="292"/><use id="n55_6" href="#pr" x="344"/><use id="n55_7" href="#pr" x="396"/><use id="n55_8" href="#wr" x="448"/><use id="n55_9" href="#wr" x="500"/><use id="n55_10" href="#wr" x="552"/></g>
<g id="r56" transform="translate(0 2922)"><text class="ll" x="21" y="4.5">56</text><text class="lr" x="611" y="4.5">56</text><use id="n56_1" href="#pl" x="84"/><use id="n56_2" href="#nl" x="136"/><use id="n56_3" href="#nl" x="188"/><use id="n56_4" href="#nl" x="240"/><use id="n56_5" href="#nl" x="292"/><use id="n56_6" href="#pl" x="344"/><use id="n56_7" href="#pl" x="396"/><use id="n56_8" href="#pl" x="448"/><use id="n56_9" href="#pl" x="500"/><use id="n56_10" href="#pl" x="552"/></g>
<g id="r57" transform="translate(0 2974)"><text class="ll" x="21" y="4.5">57</text><text class="lr" x="611" y="4.5">57</text><use id="n57_1" href="#nr" x="84"/><use id="n57_2" href="#nr" x="136"/><use id="n57_3" href="#nr" x="188"/><use id="n57_4" href="#nr" x="240"/><use id="n57_5" href="#nr" x="292"/><use id="n57_6" href="#nr" x="344"/><use id="n57_7" href="#pr" x="396"/><use id="n57_8" href="#pr" x="448"/><use id="n57_9" href="#pr" x="500"/><use id="n57_10" href="#pr" x="552"/></g>
<g id="r58" transform="translate(0 3026)"><text class="ll" x="21" y="4.5">58</text><text class="lr" x="611" y="4.5">58</text><use id="n58_1" href="#nl" x="84"/><use id="n58_2" href="#nl" x="136"/><use id="n58_3" href="#nl" x="188"/><use id="n58_4" href="#nl" x="240"/><use id="n58_5" href="#nl" x="292"/><use id="n58_6" href="#nl" x="344"/><use id="n58_7" href="#nl" x="396"/><use id="n58_8" href="#pl" x="448"/><use id="n58_9" href="#wl" x="500"/><use id="n58_10" href="#pl" x="552"/></g>
<g id="r59" transform="translate(0 3078)"><text class="ll" x="21" y="4.5">59</text><text class="lr" x="611" y="4.5">59</text><use id="n59_1" href="#nr" x="84"/><use id="n59_2" href="#nr" x="136"/><use id="n59_3" href="#nr" x="188"/><use id="n59_4" href="#nr" x="240"/><use id="n59_5" href="#nr" x="292"/><use id="n59_6" href="#nr" x="344"/><use id="n59_7" href="#nr" x="396"/><use id="n59_8" href="#pr" x="448"/><use id="n59_9" href="#wr" x="500"/><use id="n59_10" href="#pr" x="552"/></g>
<g id="r60" transform="translate(0 3130)"><text class="ll" x="21" y="4.5">60</text><text class="lr" x="611" y="4.5">60</text><use id="n60_1" href="#nl" x="84"/><use id="n60_2" href="#nl" x="136"/><use id="n60_3" href="#nl" x="188"/><use id="n60_4" href="#nl" x="240"/><use id="n60_5" href="#nl" x="292"/><use id="n60_6" href="#nl" x="344"/><use id="n60_7" href="#nl" x="396"/><use id="n60_8" href="#pl" x="448"/><use id="n60_9" href="#wl" x="500"/><use id="n60_10" href="#pl" x="552"/></g>
<g id="r61" transform="translate(0 3182)"><text class="ll" x="21" y="4.5">61</text><text class="lr" x="611" y="4.5">61</text><use id="n61_1" href="#nr" x="84"/><use id="n61_2" href="#nr" x="136"/><use id="n61_3" href="#nr" x="188"/><use id="n61_4" href="#nr" x="240"/><use id="n61_5" href="#nr" x="292"/><use id="n61_6" href="#nr" x="344"/><use id="n61_7" href="#nr" x="396"/><use id="n61_8" href="#pr" x="448"/><use id="n61_9" href="#wr" x="500"/><use id="n61_10" href="#pr" x="552"/></g>
<g id="r62" transform="translate(0 3234)"><text class="ll" x="21" y="4.5">62</text><text class="lr" x="611" y="4.5">62</text><use id="n62_1" href="#nl" x="84"/><use id="n62_2" href="#nl" x="136"/><use id="n62_3" href="#nl" x="188"/><use id="n62_4" href="#nl" x="240"/><use id="n62_5" href="#nl" x="292"/><use id="n62_6" href="#nl" x="344"/><use id="n62_7" href="#pl" x="396"/><use id="n62_8" href="#pl" x="448"/><use id="n62_9" href="#pl" x="500"/><use id="n62_10" href="#pl" x="552"/></g>
<g id="r63" transform="translate(0 3286)"><text class="ll" x="21" y="4.5">63</text><text class="lr" x="611" y="4.5">63</text><use id="n63_1" href="#pr" x="84"/><use id="n63_2" href="#nr" x="136"/><use id="n63_3" href="#nr" x="188"/><use id="n63_4" href="#nr" x="240"/><use id="n63_5" href="#nr" x="292"/><use id="n63_6" href="#pr" x="344"/><use id="n63_7" href="#pr" x="396"/><use id="n63_8" href="#pr" x="448"/><use id="n63_9" href="#pr" x="500"/><use id="n63_10" href="#pr" x="552"/></g>
<g id="r64" transform="translate(0 3338)"><text class="ll" x="21" y="4.5">64</text><text class="lr" x="611" y="4.5">64</text><use id="n64_1" href="#pl" x="84"/><use id="n64_2" href="#pl" x="136"/><use id="n64_3" href="#pl" x="188"/><use id="n64_4" href="#pl" x="240"/><use id="n64_5" href="#pl" x="292"/><use id="n64_6" href="#pl" x="344"/><use id="n64_7" href="#pl" x="396"/><use id="n64_8" href="#wl" x="448"/><use id="n64_9" href="#wl" x="500"/><use id="n64_10" href="#wl" x="552"/></g>
<g id="r65" transform="translate(0 3390)"><text class="ll" x="21" y="4.5">65</text><text class="lr" x="611" y="4.5">65</text><use id="n65_1" href="#pr" x="84"/><use id="n65_2" href="#wr" x="136"/><use id="n65_3" href="#pr" x="188"/><use id="n65_4" href="#pr" x="240"/><use id="n65_5" href="#wr" x="292"/><use id="n65_6" href="#pr" x="344"/><use id="n65_7" href="#pr" x="396"/><use id="n65_8" href="#wr" x="448"/><use id="n65_9" href="#wr" x="500"/><use id="n65_10" href="#wr" x="552"/></g>
<g id="r66" transform="translate(0 3442)"><text class="ll" x="21" y="4.5">66</text><text class="lr" x="611" y="4.5">66</text><use id="n66_1" href="#wl" x="84"/><use id="n66_2" href="#wl" x="136"/><use id="n66_3" href="#pl" x="188"/><use id="n66_4" href="#pl" x="240"/><use id="n66_5" href="#wl" x="292"/><use id="n66_6" href="#wl" x="344"/><use id="n66_7" href="#wl" x="396"/><use id="n66_8" href="#wl" x="448"/><use id="n66_9" href="#wl" x="500"/><use id="n66_10" href="#wl" x="552"/></g>
<g id="r67" transform="translate(0 3494)"><text class="ll" x="21" y="4.5">67</text><text class="lr" x="611" y="4.5">67</text><use id="n67_1" href="#wr" x="84"/><use id="n67_2" href="#wr" x="136"/><use id="n67_3" href="#wr" x="188"/><use id="n67_4" href="#wr" x="240"/><use id="n67_5" href="#wr" x="292"/><use id="n67_6" href="#wr" x="344"/><use id="n67_7" href="#wr" x="396"/><use id="n67_8" href="#wr" x="448"/><use id="n67_9" href="#wr" x="500"/><use id="n67_10" href="#wr" x="552"/></g>
<g id="r68" transform="translate(0 3546)"><text class="ll" x="21" y="4.5">68</text><text class="lr" x="611" y="4.5">68</text><use id="n68_1" href="#wl" x="84"/><use id="n68_2" href="#wl" x="136"/><use id="n68_3" href="#wl" x="188"/><use id="n68_4" href="#wl" x="240"/><use id="n68_5" href="#wl" x="292"/><use id="n68_6" href="#wl" x="344"/><use id="n68_7" href="#wl" x="396"/><use id="n68_8" href="#wl" x="448"/><use id="n68_9" href="#wl" x="500"/><use id="n68_10" href="#wl" x="552"/></g>
<g id="r69" transform="translate(0 3598)"><text class="ll" x="21" y="4.5">69</text><text class="lr" x="611" y="4.5">69</text><use id="n69_1" href="#wr" x="84"/><use id="n69_2" href="#wr" x="136"/><use id="n69_3" href="#wr" x="188"/><use id="n69_4" href="#wr" x="240"/><use id="n69_5" href="#wr" x="292"/><use id="n69_6" href="#wr" x="344"/><use id="n69_7" href="#wr" x="396"/><use id="n69_8" href="#wr" x="448"/><use id="n69_9" href="#wr" x="500"/><use id="n69_10" href="#wr" x="552"/></g>
<g id="r70" transform="translate(0 3650)"><text class="ll" x="21" y="4.5">70</text><text class="lr" x="611" y="4.5">70</text><use id="n70_1" href="#wl" x="84"/><use id="n70_2" href="#wl" x="136"/><use id="n70_3" href="#wl" x="188"/><use id="n70_4" href="#wl" x="240"/><use id="n70_5" href="#wl" x="292"/><use id="n70_6" href="#wl" x="344"/><use id="n70_7" href="#wl" x="396"/><use id="n70_8" href="#wl" x="448"/><use id="n70_9" href="#wl" x="500"/><use id="n70_10" href="#pl" x="552"/></g>
<g id="r71" transform="translate(0 3702)"><text class="ll" x="21" y="4.5">71</text><text class="lr" x="611" y="4.5">71</text><use id="n71_1" href="#wr" x="84"/><use id="n71_2" href="#wr" x="136"/><use id="n71_3" href="#wr" x="188"/><use id="n71_4" href="#wr" x="240"/><use id="n71_5" href="#wr" x="292"/><use id="n71_6" href="#pr" x="344"/><use id="n71_7" href="#pr" x="396"/><use id="n71_8" href="#wr" x="448"/><use id="n71_9" href="#pr" x="500"/><use id="n71_10" href="#pr" x="552"/></g>
<g id="r72" transform="translate(0 3754)"><text class="ll" x="21" y="4.5">72</text><text class="lr" x="611" y="4.5">72</text><use id="n72_1" href="#wl" x="84"/><use id="n72_2" href="#wl" x="136"/><use id="n72_3" href="#wl" x="188"/><use id="n72_4" href="#wl" x="240"/><use id="n72_5" href="#wl" x="292"/><use id="n72_6" href="#pl" x="344"/><use id="n72_7" href="#pl" x="396"/><use id="n72_8" href="#pl" x="448"/><use id="n72_9" href="#pl" x="500"/><use id="n72_10" href="#pl" x="552"/></g>
<g id="r73" transform="translate(0 3806)"><text class="ll" x="21" y="4.5">73</text><text class="lr" x="611" y="4.5">73</text><use id="n73_1" href="#wr" x="84"/><use id="n73_2" href="#wr" x="136"/><use id="n73_3" href="#wr" x="188"/><use id="n73_4" href="#wr" x="240"/><use id="n73_5" href="#pr" x="292"/><use id="n73_6" href="#pr" x="344"/><use id="n73_7" href="#pr" x="396"/><use id="n73_8" href="#nr" x="448"/><use id="n73_9" href="#nr" x="500"/><use id="n73_10" href="#nr" x="552"/></g>
<g id="r74" transform="translate(0 3858)"><text class="ll" x="21" y="4.5">74</text><text class="lr" x="611" y="4.5">74</text><use id="n74_1" href="#wl" x="84"/><use id="n74_2" href="#wl" x="136"/><use id="n74_3" href="#wl" x="188"/><use id="n74_4" href="#wl" x="240"/><use id="n74_5" href="#pl" x="292"/><use id="n74_6" href="#pl" x="344"/><use id="n74_7" href="#nl" x="396"/><use id="n74_8" href="#nl" x="448"/><use id="n74_9" href="#nl" x="500"/><use id="n74_10" href="#nl" x="552"/></g>
<g id="r75" transform="translate(0 3910)"><text class="ll" x="21" y="4.5">75</text><text class="lr" x="611" y="4.5">75</text><use id="n75_1" href="#wr" x="84"/><use id="n75_2" href="#wr" x="136"/><use id="n75_3" href="#wr" x="188"/><use id="n75_4" href="#pr" x="240"/><use id="n75_5" href="#pr" x="292"/><use id="n75_6" href="#nr" x="344"/><use id="n75_7" href="#nr" x="396"/><use id="n75_8" href="#nr" x="448"/><use id="n75_9" href="#nr" x="500"/><use id="n75_10" href="#nr" x="552"/></g>
</g>
<text class="wm" x="318" y="2017.5" textLength="153" lengthAdjust="spacingAndGlyphs">BRACELETBOOK.COM</text>
</svg>
